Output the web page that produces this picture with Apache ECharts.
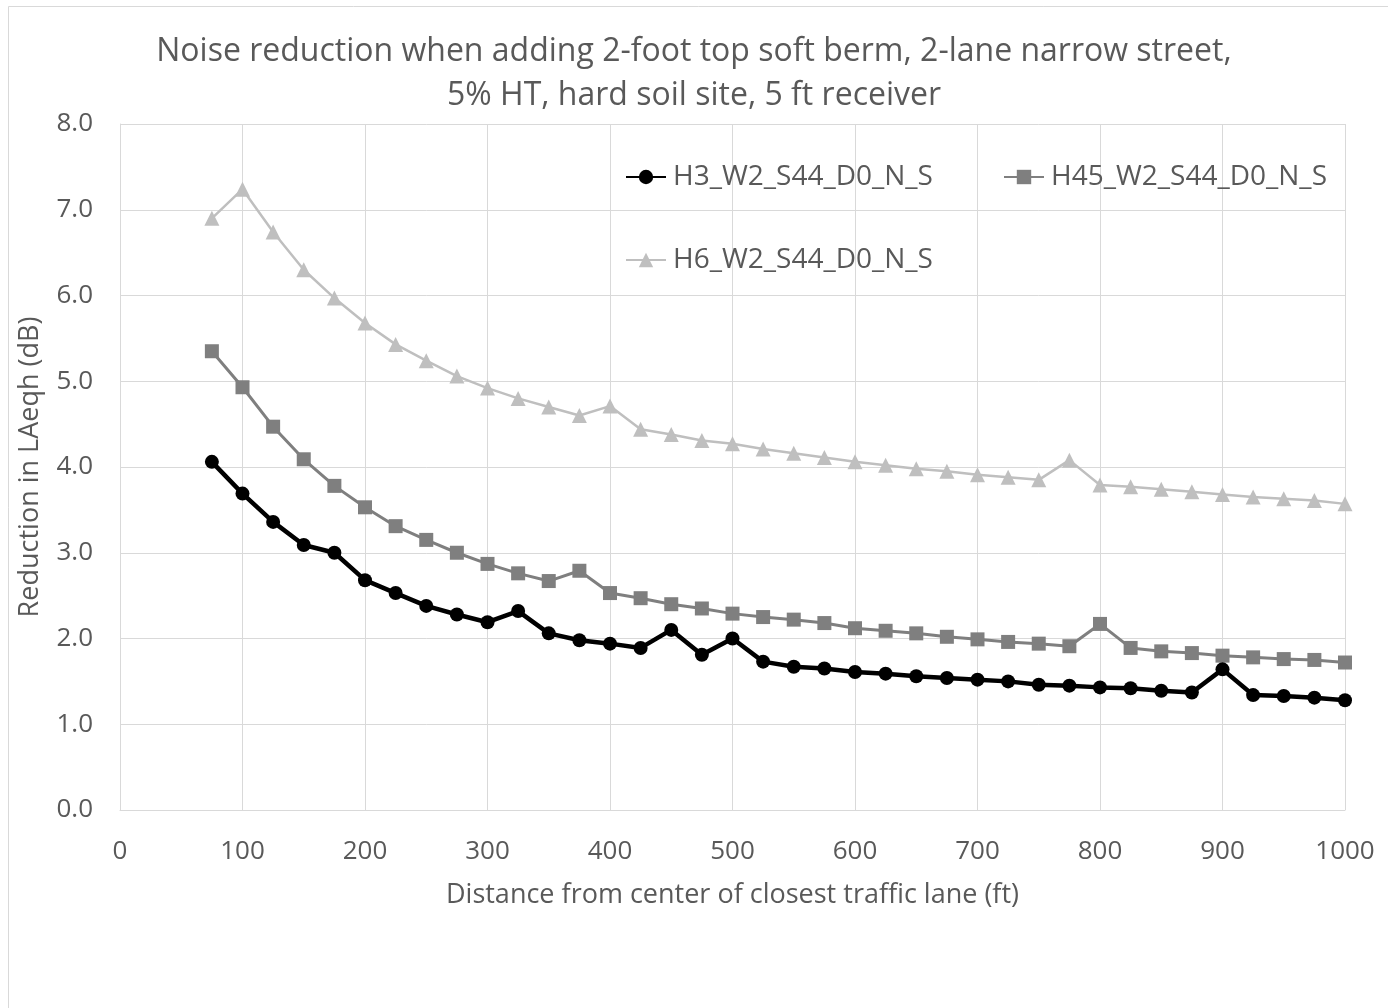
<!DOCTYPE html>
<html>
<head>
<meta charset="utf-8">
<script src="https://cdn.jsdelivr.net/npm/echarts@6/dist/echarts.min.js"></script>
<style>
  html, body { margin: 0; padding: 0; background: #ffffff; }
  #chart { width: 1388px; height: 1008px; }
</style>
</head>
<body>
<div id="chart"></div>
<script>
// Distances from the centre of the closest traffic lane (ft)
const distances = [75, 100, 125, 150, 175, 200, 225, 250, 275, 300, 325, 350, 375, 400,
  425, 450, 475, 500, 525, 550, 575, 600, 625, 650, 675, 700, 725, 750, 775, 800,
  825, 850, 875, 900, 925, 950, 975, 1000];

// Reduction in LAeqh (dB) for each berm height case
const h3Values = [4.06, 3.69, 3.36, 3.09, 3.00, 2.68, 2.53, 2.38, 2.28, 2.19, 2.32, 2.06, 1.98, 1.94,
  1.89, 2.10, 1.81, 2.00, 1.73, 1.67, 1.65, 1.61, 1.59, 1.56, 1.54, 1.52, 1.50, 1.46,
  1.45, 1.43, 1.42, 1.39, 1.37, 1.64, 1.34, 1.33, 1.31, 1.28];
const h45Values = [5.35, 4.93, 4.47, 4.09, 3.78, 3.53, 3.31, 3.15, 3.00, 2.87, 2.76, 2.67, 2.79, 2.53,
  2.47, 2.40, 2.35, 2.29, 2.25, 2.22, 2.18, 2.12, 2.09, 2.06, 2.02, 1.99, 1.96, 1.94,
  1.91, 2.17, 1.89, 1.85, 1.83, 1.80, 1.78, 1.76, 1.75, 1.72];
const h6Values = [6.90, 7.24, 6.74, 6.30, 5.97, 5.68, 5.43, 5.24, 5.06, 4.92, 4.80, 4.70, 4.60, 4.71,
  4.44, 4.38, 4.31, 4.27, 4.21, 4.16, 4.11, 4.06, 4.02, 3.98, 3.95, 3.91, 3.88, 3.85,
  4.08, 3.79, 3.77, 3.74, 3.71, 3.68, 3.65, 3.63, 3.61, 3.57];

const seriesNames = ['H3_W2_S44_D0_N_S', 'H45_W2_S44_D0_N_S', 'H6_W2_S44_D0_N_S'];

const titleLines = ['Noise reduction when adding 2-foot top soft berm, 2-lane narrow street,',
  '5% HT, hard soil site, 5 ft receiver'];
const xAxisTitle = 'Distance from center of closest traffic lane (ft)';
const yAxisTitle = 'Reduction in LAeqh (dB)';

const FONT = '"Open Sans", "Noto Sans", sans-serif';
const TEXT = '#595959';
const GRID = '#d9d9d9';

function pairs(values) {
  return distances.map((d, i) => [d, values[i]]);
}

const chart = echarts.init(document.getElementById('chart'), null, { renderer: 'canvas' });

const legendBase = {
  orient: 'horizontal',
  itemWidth: 40,
  itemHeight: 18,
  itemGap: 6,
  textStyle: { color: TEXT, fontFamily: FONT, fontSize: 28, padding: [0, 0, 0, 2] }
};

chart.setOption({
  backgroundColor: '#ffffff',
  animation: false,
  title: {
    text: titleLines.join('\n'),
    left: 'center',
    top: 25,
    textStyle: { color: TEXT, fontFamily: FONT, fontSize: 32, fontWeight: 'normal', lineHeight: 44 }
  },
  graphic: [{
    type: 'rect',
    shape: { x: 8.5, y: 6.5, width: 1400, height: 1020 },
    style: { fill: 'none', stroke: GRID, lineWidth: 1 },
    silent: true
  }],
  legend: [
    Object.assign({}, legendBase, { left: 620, top: 158, data: [seriesNames[0]] }),
    Object.assign({}, legendBase, { left: 998, top: 158, data: [seriesNames[1]] }),
    Object.assign({}, legendBase, { left: 620, top: 241, data: [seriesNames[2]] })
  ],
  grid: { left: 120, right: 43, top: 124, bottom: 198, containLabel: false },
  xAxis: {
    type: 'value',
    min: 0, max: 1000, interval: 100,
    name: xAxisTitle,
    nameLocation: 'middle',
    nameGap: 72,
    nameTextStyle: { color: TEXT, fontFamily: FONT, fontSize: 27 },
    axisLine: { show: true, lineStyle: { color: GRID, width: 1 } },
    axisTick: { show: false },
    axisLabel: { color: TEXT, fontFamily: FONT, fontSize: 26, margin: 29,
      formatter: v => String(v) },
    splitLine: { show: true, lineStyle: { color: GRID, width: 1 } }
  },
  yAxis: {
    type: 'value',
    min: 0, max: 8, interval: 1,
    name: yAxisTitle,
    nameLocation: 'middle',
    nameGap: 76,
    nameRotate: 90,
    nameTextStyle: { color: TEXT, fontFamily: FONT, fontSize: 27 },
    axisLine: { show: true, lineStyle: { color: GRID, width: 1 } },
    axisTick: { show: false },
    axisLabel: { color: TEXT, fontFamily: FONT, fontSize: 26, margin: 27,
      formatter: v => v.toFixed(1) },
    splitLine: { show: true, lineStyle: { color: GRID, width: 1 } }
  },
  series: [
    {
      name: seriesNames[2], type: 'line', data: pairs(h6Values),
      symbol: 'triangle', symbolSize: 15,
      lineStyle: { color: '#bfbfbf', width: 2.5 },
      itemStyle: { color: '#bfbfbf' },
      z: 2
    },
    {
      name: seriesNames[1], type: 'line', data: pairs(h45Values),
      symbol: 'rect', symbolSize: 14,
      lineStyle: { color: '#7f7f7f', width: 3 },
      itemStyle: { color: '#7f7f7f' },
      z: 3
    },
    {
      name: seriesNames[0], type: 'line', data: pairs(h3Values),
      symbol: 'circle', symbolSize: 14,
      lineStyle: { color: '#000000', width: 4.5 },
      itemStyle: { color: '#000000' },
      z: 4
    }
  ]
});
</script>
</body>
</html>
